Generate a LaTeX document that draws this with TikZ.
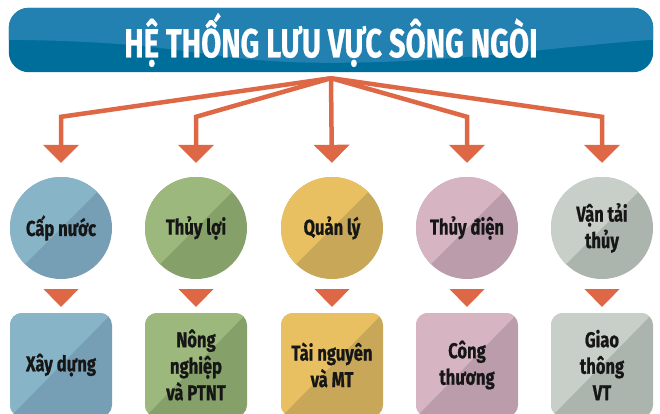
\documentclass[tikz,border=0pt]{standalone}
\usepackage{fontspec}
\setmainfont{Fira Sans}[FakeStretch=0.72]
\newfontfamily\lblfont{Fira Sans}[UprightFont={* Bold}, FakeStretch=0.77, FakeBold=0.8]
\newfontfamily\ttlfont{Fira Sans}[UprightFont={* Bold}, FakeStretch=0.72, FakeBold=0.6]
\usetikzlibrary{arrows.meta,calc}
\pgfdeclarelayer{bg}
\pgfsetlayers{bg,main}
\definecolor{arr}{HTML}{DE6846}
\definecolor{bdark}{HTML}{006E9B}
\definecolor{blight}{HTML}{2381B1}
\definecolor{tx}{HTML}{161616}
\definecolor{c1l}{HTML}{88B4C8}\definecolor{c1d}{HTML}{769EB4}
\definecolor{c2l}{HTML}{9CB87C}\definecolor{c2d}{HTML}{86A06A}
\definecolor{c3l}{HTML}{E8C062}\definecolor{c3d}{HTML}{C8A858}
\definecolor{c4l}{HTML}{D6B4C2}\definecolor{c4d}{HTML}{BA9CAA}
\definecolor{c5l}{HTML}{C8CEC8}\definecolor{c5d}{HTML}{ACB4AE}
\tikzset{
  lbl/.style={font=\lblfont\fontsize{21.5}{26.5}\selectfont, text=tx, align=center},
  halfsplit/.style={path picture={\fill[#1, sharp corners] (path picture bounding box.south west) -- (path picture bounding box.north west) -- (path picture bounding box.north east) -- cycle;}},
  circ/.style n args={2}{circle, minimum size=102pt, inner sep=0pt, fill=#2, halfsplit=#1, lbl},
  sqbox/.style n args={2}{rectangle, rounded corners=12pt, minimum width=102pt, minimum height=104pt, inner sep=0pt, fill=#2, halfsplit=#1, lbl},
  conn/.style={draw=arr, line width=4.5pt, line join=miter, shorten >=14pt, -{Triangle[length=18pt,width=35pt]}},
  titletext/.style={minimum width=644pt, minimum height=64pt, inner sep=0pt, text=white, font=\ttlfont\fontsize{40.5}{44}\selectfont}
}
\begin{document}
\begin{tikzpicture}[x=1pt,y=-1pt]
\useasboundingbox (0,0) rectangle (660,413);
\clip (0,0) rectangle (660,413);
\node[titletext] (title) at (331,40) {HỆ THỐNG LƯU VỰC SÔNG NGÒI};
\begin{pgfonlayer}{bg}
  \fill[bdark, rounded corners=20pt] (title.south west) rectangle (title.north east);
  \begin{scope}
    \clip[rounded corners=20pt] (title.south west) rectangle (title.north east);
    \fill[blight] (title.north west) -- (title.north east) -- ($(title.north east)+(0,32)$)
      .. controls ($(title.north east)+(-93,38)$) and ($(title.north)+(129,55)$) .. ($(title.north)+(0,55)$)
      .. controls ($(title.north)+(-131,55)$) and ($(title.north west)+(191,34)$) .. ($(title.north west)+(0,32)$) -- cycle;
  \end{scope}
\end{pgfonlayer}
\coordinate (apex) at ($(title.south)+(0,6)$);

\node[circ={c1l}{c1d}] (c1) at (61,228) {Cấp nước};
\node[circ={c2l}{c2d}] (c2) at (196,228) {Thủy lợi};
\node[circ={c3l}{c3d}] (c3) at (332,228) {Quản lý};
\node[circ={c4l}{c4d}] (c4) at (467,228) {Thủy điện};
\node[circ={c5l}{c5d}] (c5) at (602,228) {Vận tải\\thủy};

\node[sqbox={c1l}{c1d}] (b1) at (61,365) {Xây dựng};
\node[sqbox={c2l}{c2d}] (b2) at (196,365) {Nông\\nghiệp\\và PTNT};
\node[sqbox={c3l}{c3d}] (b3) at (332,365) {Tài nguyên\\và MT};
\node[sqbox={c4l}{c4d}] (b4) at (467,365) {Công\\thương};
\node[sqbox={c5l}{c5d}] (b5) at (602,365) {Giao\\thông\\VT};

\foreach \c in {c1,c2,c4,c5}{
  \draw[conn] (apex) -- ($(\c.north)+(0,-60)$) -- (\c.north);
}
\draw[conn] (apex) -- (c3.north);

\foreach \i in {1,...,5}{
  \fill[arr] ($(c\i.south)+(-17.5,10)$) -- ($(c\i.south)+(17.5,10)$) -- ($(b\i.north)+(0,-6)$) -- cycle;
}
\end{tikzpicture}
\end{document}
